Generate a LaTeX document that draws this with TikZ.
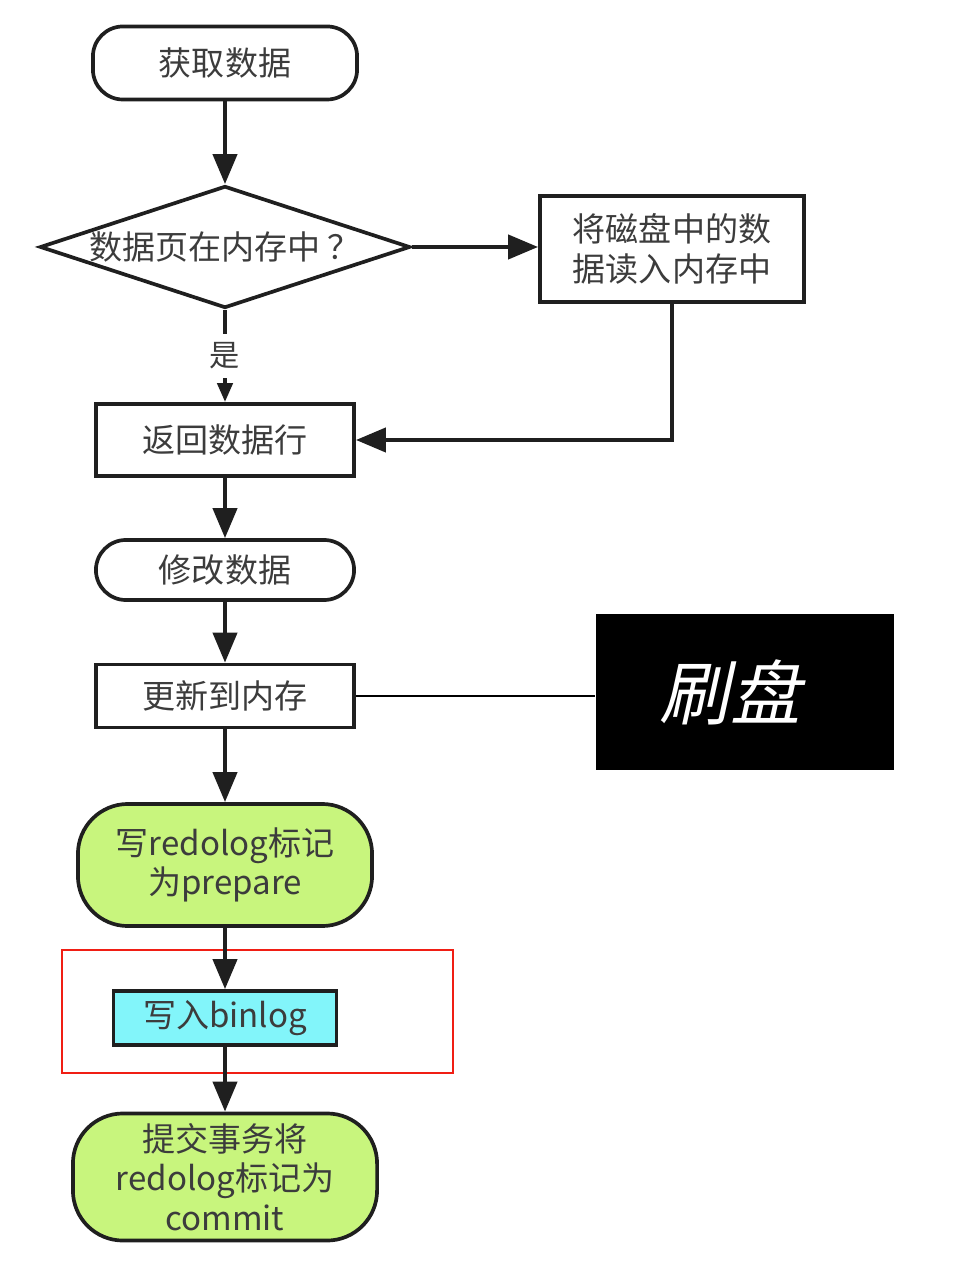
\documentclass[tikz,border=0pt]{standalone}
\usepackage{fontspec}
\setmainfont{Noto Sans CJK SC}
\newfontfamily\slantcjk[FakeSlant=0.22]{Noto Sans CJK SC}
\usetikzlibrary{shapes.geometric,arrows.meta}

\definecolor{txtgrey}{RGB}{60,60,60}
\definecolor{limefill}{RGB}{200,245,125}
\definecolor{cyanfill}{RGB}{130,245,250}
\definecolor{markred}{RGB}{240,30,20}

\tikzset{
  base/.style={draw=black!88, line width=1.05pt, text=txtgrey, align=center,
    inner sep=0pt, font=\fontsize{9.4pt}{11.2pt}\selectfont},
  procbox/.style={base, rectangle},
  termbox/.style={base, rectangle, rounded corners=0.3cm},
  greenbox/.style={base, rectangle, rounded corners=0.5cm, fill=limefill},
  conn/.style={draw=black!88, line width=1.2pt,
    -{Triangle[length=0.30cm, width=0.24cm]}},
  connsmall/.style={draw=black!88, line width=1.2pt,
    -{Triangle[length=0.19cm, width=0.15cm]}},
}

\begin{document}
\begin{tikzpicture}[x=0.01cm, y=-0.01cm]
\useasboundingbox (0,0) rectangle (959,1280);

% highlight frame around the binlog step
\draw[markred, line width=0.55pt] (62,950) rectangle (453,1073);

% flow steps
\node[termbox, minimum width=2.64cm, minimum height=0.73cm] (get) at (225,63) {获取数据};
\node[base, diamond, aspect=3, minimum width=3.70cm, minimum height=1.22cm] (dec) at (225,247) {数据页在内存中 ？};
\node[procbox, minimum width=2.64cm, minimum height=1.06cm] (disk) at (672,249) {将磁盘中的数\\据读入内存中};
\node[procbox, minimum width=2.58cm, minimum height=0.72cm] (ret) at (225,440) {返回数据行};
\node[termbox, minimum width=2.58cm, minimum height=0.60cm] (mod) at (225,570) {修改数据};
\node[procbox, minimum width=2.58cm, minimum height=0.63cm] (upd) at (225,696) {更新到内存};
\node[greenbox, minimum width=2.94cm, minimum height=1.22cm] (prep) at (225,865) {写redolog标记\\为prepare};
\node[procbox, fill=cyanfill, minimum width=2.23cm, minimum height=0.54cm] (bin) at (225,1018) {写入binlog};
\node[greenbox, minimum width=3.04cm, minimum height=1.27cm] (commit) at (225,1177) {提交事务将\\redolog标记为\\commit};

% flush label
\node[rectangle, fill=black, minimum width=2.98cm, minimum height=1.56cm, inner sep=0pt,
  text=white, font=\slantcjk\fontsize{20pt}{22pt}\selectfont] (flush) at (745,692) {\hspace*{-0.3cm}刷盘};

% connectors
\draw[conn] (get) -- (dec);
\draw[conn] (dec.east) -- (dec.east -| disk.west);
\draw[connsmall] (dec.south) -- node[fill=white, inner xsep=2pt, inner ysep=2.5pt, text=txtgrey,
  font=\fontsize{8.6pt}{10pt}\selectfont] {是} (ret.north);
\draw[conn] (disk.south) |- (ret.east);
\draw[conn] (ret) -- (mod);
\draw[conn] (mod) -- (upd);
\draw[black, line width=0.5pt] (upd.east) -- (flush.west |- upd.east);
\draw[conn] (upd) -- (prep);
\draw[conn] (prep) -- (bin);
\draw[conn] (bin) -- (commit);
\end{tikzpicture}
\end{document}
